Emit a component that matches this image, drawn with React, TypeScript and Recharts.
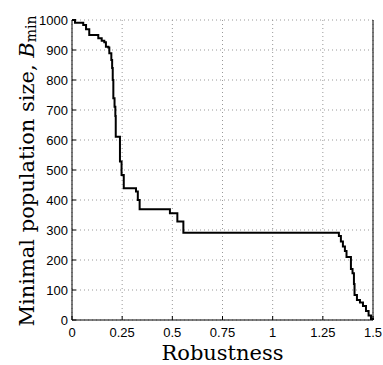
import { LineChart, Line, XAxis, YAxis, CartesianGrid } from "recharts";

// robustness (x) and minimal population size (y), step-after pairs
const robustness = [
  0, 0.015, 0.056, 0.07, 0.086, 0.131, 0.148, 0.161, 0.169, 0.181, 0.186,
  0.196, 0.2, 0.203, 0.206, 0.212, 0.216, 0.218, 0.239, 0.247, 0.258,
  0.319, 0.328, 0.337, 0.488, 0.525, 0.555, 1.33, 1.34, 1.35, 1.36, 1.368,
  1.39, 1.398, 1.405, 1.408, 1.42, 1.435, 1.45, 1.465, 1.478, 1.49, 1.5,
];
const minPopSize = [
  1000, 991, 983, 969, 950, 939, 931, 926, 911, 908, 889,
  867, 840, 800, 739, 711, 680, 611, 528, 483, 439,
  428, 400, 369, 356, 328, 291, 280, 262, 245, 230, 210,
  170, 156, 120, 83, 67, 58, 47, 30, 15, 3, 0,
];

const xTicks = [0, 0.25, 0.5, 0.75, 1, 1.25, 1.5];
const yTicks = [0, 100, 200, 300, 400, 500, 600, 700, 800, 900, 1000];

const data = robustness.map((r, i) => ({ r, b: minPopSize[i] }));

const tickFont = "'Liberation Sans', Arial, sans-serif";
const labelFont = "'DejaVu Serif', serif";

function BottomTick({ x, y, payload }: any) {
  return (
    <g>
      <line x1={x} x2={x} y1={y} y2={y - 4} stroke="#000" />
      <text x={x} y={y + 17} textAnchor="middle" fontSize={13} fontFamily={tickFont} fill="#000">
        {payload.value}
      </text>
    </g>
  );
}

function LeftTick({ x, y, payload }: any) {
  return (
    <g>
      <line x1={x} x2={x + 4} y1={y} y2={y} stroke="#000" />
      <text x={x - 4} y={y} textAnchor="end" dominantBaseline="central" fontSize={13} fontFamily={tickFont} fill="#000">
        {payload.value}
      </text>
    </g>
  );
}

function TopTick({ x, y }: any) {
  return <line x1={x} x2={x} y1={y} y2={y + 4} stroke="#000" />;
}

function RightTick({ x, y }: any) {
  return <line x1={x} x2={x - 4} y1={y} y2={y} stroke="#000" />;
}

function YLabel({ viewBox }: any) {
  const cx = viewBox.x + 27;
  const cy = viewBox.y + viewBox.height / 2 + 1;
  return (
    <text
      x={cx}
      y={cy}
      transform={`rotate(-90 ${cx} ${cy})`}
      textAnchor="middle"
      dominantBaseline="central"
      fontSize={21}
      fontFamily={labelFont}
      fill="#000"
    >
      Minimal population size,{" "}
      <tspan fontStyle="italic">B</tspan>
      <tspan fontSize={14} dy={4}>min</tspan>
    </text>
  );
}

export default function App() {
  return (
    <div style={{ position: "absolute", left: 0, top: 0 }}>
      <LineChart width={383} height={365} data={data} margin={{ top: 20, right: 0, left: 0, bottom: 0 }}>
        <CartesianGrid stroke="#999" strokeDasharray="1 3" />
        <XAxis
          dataKey="r"
          type="number"
          domain={[0, 1.5]}
          ticks={xTicks}
          height={45}
          tickSize={0}
          tickMargin={0}
          tickLine={false}
          axisLine={{ stroke: "#000" }}
          tick={<BottomTick />}
          interval={0}
          label={{
            value: "Robustness",
            position: "insideBottom",
            offset: 5,
            fontSize: 21,
            fontFamily: labelFont,
            fill: "#000",
          }}
        />
        <XAxis
          xAxisId="top"
          dataKey="r"
          type="number"
          orientation="top"
          domain={[0, 1.5]}
          ticks={xTicks}
          height={0}
          tickSize={0}
          tickMargin={0}
          tickLine={false}
          axisLine={{ stroke: "#000" }}
          tick={<TopTick />}
          interval={0}
        />
        <YAxis
          type="number"
          domain={[0, 1000]}
          ticks={yTicks}
          width={72}
          tickSize={0}
          tickMargin={0}
          tickLine={false}
          axisLine={{ stroke: "#000" }}
          tick={<LeftTick />}
          interval={0}
          label={<YLabel />}
        />
        <YAxis
          yAxisId="right"
          type="number"
          orientation="right"
          domain={[0, 1000]}
          ticks={yTicks}
          width={10}
          tickSize={0}
          tickMargin={0}
          tickLine={false}
          axisLine={{ stroke: "#000" }}
          tick={<RightTick />}
          interval={0}
        />
        <Line
          dataKey="b"
          type="stepAfter"
          stroke="#000"
          strokeWidth={2}
          dot={false}
          isAnimationActive={false}
        />
      </LineChart>
    </div>
  );
}
